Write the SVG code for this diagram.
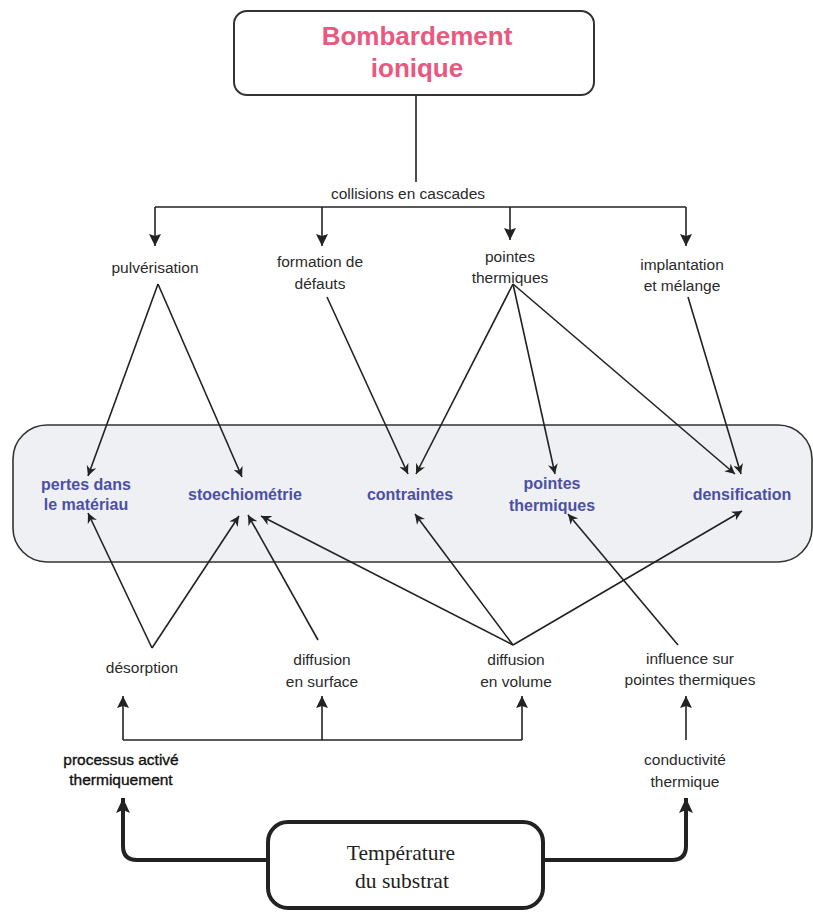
<svg xmlns="http://www.w3.org/2000/svg" width="813" height="913" viewBox="0 0 813 913">
<defs>
<marker id="a" markerUnits="userSpaceOnUse" markerWidth="11" markerHeight="10" refX="10" refY="5" orient="auto">
<path d="M0,0 L10,5 L0,10 L3,5 z" fill="#222"/>
</marker>
<marker id="b" markerUnits="userSpaceOnUse" markerWidth="13" markerHeight="12" refX="12" refY="6" orient="auto">
<path d="M0,0 L12,6 L0,12 L2,6 z" fill="#222"/>
</marker>
<marker id="c" markerUnits="userSpaceOnUse" markerWidth="16" markerHeight="14" refX="15" refY="7" orient="auto">
<path d="M0,0 L15,7 L0,14 L3,7 z" fill="#222"/>
</marker>
<style>
.t{font-family:"Liberation Sans",Arial,sans-serif;font-size:15.5px;fill:#2a2a2a;text-anchor:middle}
.bl{font-family:"Liberation Sans",Arial,sans-serif;font-size:16px;font-weight:bold;fill:#4d4fa3;text-anchor:middle}
.dk{fill:#111;stroke:#111;stroke-width:0.35}
.ln{stroke:#222;stroke-width:1.6;fill:none}
.thick{stroke:#222;stroke-width:4;fill:none}
</style>
</defs>
<g id="band"><rect x="13" y="425" width="799" height="137" rx="34" fill="#eef0f4" stroke="#333" stroke-width="1.6"/></g>
<g id="connectors">
<line class="ln" x1="416" y1="95" x2="416" y2="182"/>
<line class="ln" x1="155" y1="207" x2="686" y2="207"/>
<line class="ln" x1="155" y1="207" x2="155" y2="246" marker-end="url(#b)"/>
<line class="ln" x1="322" y1="207" x2="322" y2="246" marker-end="url(#b)"/>
<line class="ln" x1="510" y1="207" x2="510" y2="240" marker-end="url(#b)"/>
<line class="ln" x1="686" y1="207" x2="686" y2="246" marker-end="url(#b)"/>
<line class="ln" x1="158" y1="284" x2="88" y2="476" marker-end="url(#a)"/>
<line class="ln" x1="158" y1="284" x2="242" y2="477" marker-end="url(#a)"/>
<line class="ln" x1="327" y1="297" x2="408" y2="474" marker-end="url(#a)"/>
<line class="ln" x1="513" y1="284" x2="416" y2="474" marker-end="url(#a)"/>
<line class="ln" x1="513" y1="284" x2="555" y2="474" marker-end="url(#a)"/>
<line class="ln" x1="513" y1="284" x2="735" y2="474" marker-end="url(#a)"/>
<line class="ln" x1="688" y1="297" x2="741" y2="474" marker-end="url(#a)"/>
<line class="ln" x1="152" y1="648" x2="88" y2="513" marker-end="url(#a)"/>
<line class="ln" x1="152" y1="648" x2="239" y2="516" marker-end="url(#a)"/>
<line class="ln" x1="318" y1="640" x2="248" y2="515" marker-end="url(#a)"/>
<line class="ln" x1="513" y1="645" x2="261" y2="516" marker-end="url(#a)"/>
<line class="ln" x1="513" y1="645" x2="415" y2="514" marker-end="url(#a)"/>
<line class="ln" x1="513" y1="645" x2="742" y2="511" marker-end="url(#a)"/>
<line class="ln" x1="678" y1="645" x2="568" y2="514" marker-end="url(#a)"/>
<line class="ln" x1="123" y1="740" x2="522" y2="740"/>
<line class="ln" x1="123" y1="740" x2="123" y2="696" marker-end="url(#b)"/>
<line class="ln" x1="322" y1="740" x2="322" y2="696" marker-end="url(#b)"/>
<line class="ln" x1="522" y1="740" x2="522" y2="696" marker-end="url(#b)"/>
<line class="ln" x1="686" y1="740" x2="686" y2="696" marker-end="url(#b)"/>
<path class="thick" d="M268,860 H137 Q123,860 123,846 V798" marker-end="url(#c)"/>
<path class="thick" d="M543,860 H672 Q686,860 686,846 V798" marker-end="url(#c)"/>
</g>
<g id="bombardement">
<rect x="234" y="11" width="360" height="84" rx="13" fill="#fff" stroke="#333" stroke-width="2"/>
<text x="417" y="45" font-family="Liberation Sans,Arial,sans-serif" font-size="26" font-weight="bold" fill="#e8587f" text-anchor="middle">Bombardement</text>
<text x="417" y="77" font-family="Liberation Sans,Arial,sans-serif" font-size="26" font-weight="bold" fill="#e8587f" text-anchor="middle">ionique</text>
</g>
<g id="collisions"><text class="t" x="408" y="199">collisions  en cascades</text></g>
<g id="pulverisation"><text class="t" x="155" y="273">pulvérisation</text></g>
<g id="formation"><text class="t" x="320" y="267">formation de</text><text class="t" x="320" y="289">défauts</text></g>
<g id="pointes1"><text class="t" x="510" y="262">pointes</text><text class="t" x="510" y="283">thermiques</text></g>
<g id="implantation"><text class="t" x="682" y="270">implantation</text><text class="t" x="682" y="291">et mélange</text></g>
<g id="pertes"><text class="bl" x="86" y="490">pertes dans</text><text class="bl" x="86" y="510">le matériau</text></g>
<g id="stoechiometrie"><text class="bl" x="245" y="500">stoechiométrie</text></g>
<g id="contraintes"><text class="bl" x="410" y="500">contraintes</text></g>
<g id="pointes2"><text class="bl" x="552" y="489">pointes</text><text class="bl" x="552" y="511">thermiques</text></g>
<g id="densification"><text class="bl" x="742" y="500">densification</text></g>
<g id="desorption"><text class="t" x="142" y="673">désorption</text></g>
<g id="diffsurface"><text class="t" x="322" y="665">diffusion</text><text class="t" x="322" y="687">en surface</text></g>
<g id="diffvolume"><text class="t" x="516" y="665">diffusion</text><text class="t" x="516" y="687">en volume</text></g>
<g id="influence"><text class="t" x="690" y="664">influence sur</text><text class="t" x="690" y="685">pointes thermiques</text></g>
<g id="processus"><text class="t dk" x="121" y="765">processus activé</text><text class="t dk" x="121" y="785">thermiquement</text></g>
<g id="conductivite"><text class="t" x="685" y="765">conductivité</text><text class="t" x="685" y="787">thermique</text></g>
<g id="temperature">
<rect x="268" y="822" width="275" height="86" rx="20" fill="#fff" stroke="#222" stroke-width="4"/>
<text x="401" y="860" font-family="Liberation Serif,Times New Roman,serif" font-size="21.5" fill="#222" text-anchor="middle">Température</text>
<text x="402" y="888" font-family="Liberation Serif,Times New Roman,serif" font-size="21.5" fill="#222" text-anchor="middle">du substrat</text>
</g>
</svg>
